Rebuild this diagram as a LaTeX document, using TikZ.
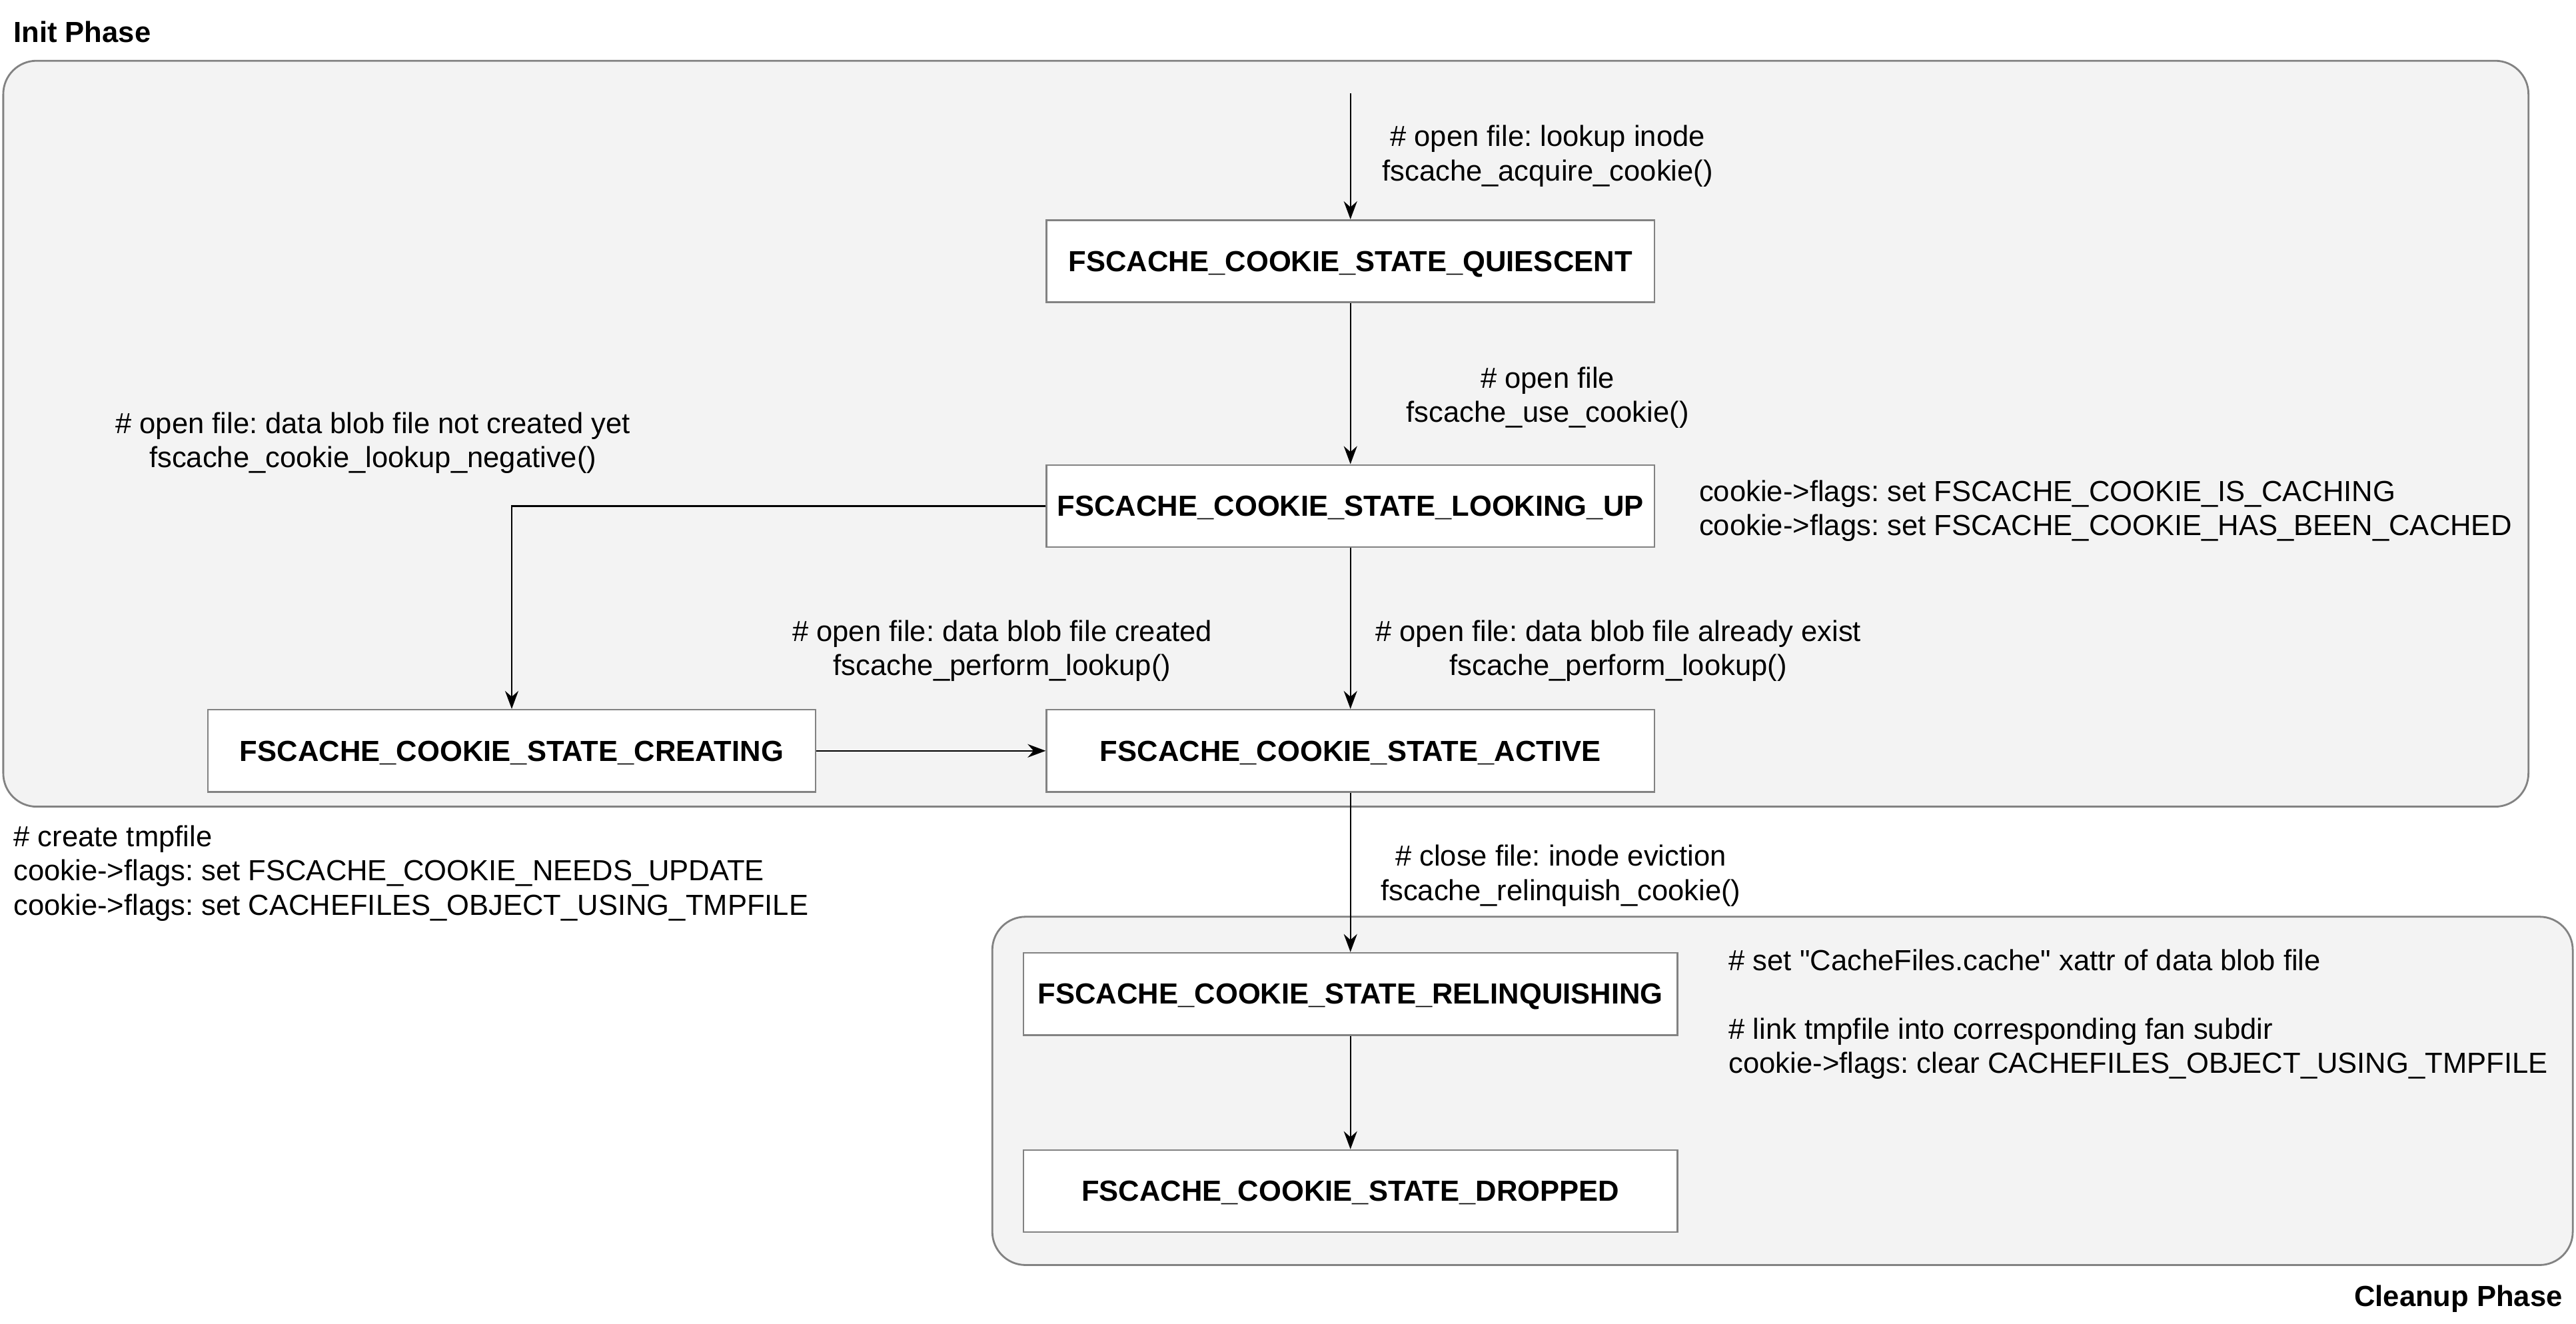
\documentclass[tikz,border=0pt]{standalone}
\usepackage{fontspec}
\setmainfont{Liberation Sans}
\usetikzlibrary{arrows.meta}
\definecolor{phasefill}{HTML}{F3F3F3}
\definecolor{phaseline}{HTML}{828282}
\definecolor{boxline}{HTML}{828282}
\frenchspacing
\begin{document}
\begin{tikzpicture}[
    state/.style={draw=boxline, fill=white, line width=0.7pt, minimum width=9.123cm, minimum height=1.233cm, inner sep=0pt, text depth=0pt, font=\bfseries},
    widestate/.style={state, minimum width=9.813cm},
    flow/.style={line width=0.7pt, -{Stealth[length=2.7mm,width=2mm]}},
    note/.style={inner sep=0pt, align=center},
    side/.style={inner sep=0pt, align=left, anchor=west},
    phase/.style={draw=phaseline, fill=phasefill, line width=0.8pt, rounded corners=0.5cm}]
                        \useasboundingbox (0,0) rectangle (38.660000,19.860000);
                        {\fontsize{12.4}{14.6}\selectfont

                        % Drawing the two phase frames
                        \draw [phase] (0.049000,18.948000) rectangle (37.946000,7.754000);%
                        \draw [phase] (14.892000,6.102000) rectangle (38.611000,0.875000);%
                        \node [inner sep=0pt, anchor=west, font=\bfseries] (initname) at (0.197000,19.380000) {Init Phase};%
                        \node [inner sep=0pt, anchor=east, font=\bfseries] (cleanupname) at (38.463000,0.370000) {Cleanup Phase};%

                        % Marking the cookie states
                        \node [state] (quiescent) at (20.267000,15.940000) {FSCACHE\_COOKIE\_STATE\_QUIESCENT};%
                        \node [state] (lookingup) at (20.267000,12.266000) {FSCACHE\_COOKIE\_STATE\_LOOKING\_UP};%
                        \node [state] (creating) at (7.680000,8.592000) {FSCACHE\_COOKIE\_STATE\_CREATING};%
                        \node [state] (active) at (20.267000,8.592000) {FSCACHE\_COOKIE\_STATE\_ACTIVE};%
                        \node [widestate] (relinquishing) at (20.267000,4.943000) {FSCACHE\_COOKIE\_STATE\_RELINQUISHING};%
                        \node [widestate] (dropped) at (20.267000,1.984000) {FSCACHE\_COOKIE\_STATE\_DROPPED};%

                        % Drawing the transitions
                        \coordinate (entry) at (20.267000,18.455000);%
                        \draw [flow] (entry) -- (quiescent);%
                        \draw [flow] (quiescent) -- (lookingup);%
                        \draw [flow] (lookingup.west) -| (creating.north);%
                        \draw [flow] (lookingup) -- (active);%
                        \draw [flow] (creating) -- (active);%
                        \draw [flow] (active) -- (relinquishing);%
                        \draw [flow] (relinquishing) -- (dropped);%

                        % Marking the transition labels
                        \node [note] (lookupnote) at (23.226000,17.517000) {\# open file: lookup inode\\fscache\_acquire\_cookie()};%
                        \node [note] (usenote) at (23.226000,13.893000) {\# open file\\fscache\_use\_cookie()};%
                        \node [note] (negativenote) at (5.597000,13.215000) {\# open file: data blob file not created yet\\fscache\_cookie\_lookup\_negative()};%
                        \node [note] (creatednote) at (15.040000,10.096000) {\# open file: data blob file created\\fscache\_perform\_lookup()};%
                        \node [note] (existnote) at (24.286000,10.096000) {\# open file: data blob file already exist\\fscache\_perform\_lookup()};%
                        \node [note] (evictnote) at (23.423000,6.718000) {\# close file: inode eviction\\fscache\_relinquish\_cookie()};%

                        % Marking the side notes
                        \node [side] (cachingnote) at (25.494000,12.191000) {cookie->flags: set FSCACHE\_COOKIE\_IS\_CACHING\\cookie->flags: set FSCACHE\_COOKIE\_HAS\_BEEN\_CACHED};%
                        \node [side] (tmpfilenote) at (0.197000,6.755000) {\# create tmpfile\\cookie->flags: set FSCACHE\_COOKIE\_NEEDS\_UPDATE\\cookie->flags: set CACHEFILES\_OBJECT\_USING\_TMPFILE};%
                        \node [side] (xattrnote) at (25.938000,4.634000) {\# set \textquotedbl CacheFiles.cache\textquotedbl{} xattr of data blob file\\\mbox{}\\\# link tmpfile into corresponding fan subdir\\cookie->flags: clear CACHEFILES\_OBJECT\_USING\_TMPFILE};%
                        }
                    \end{tikzpicture}
\end{document}
